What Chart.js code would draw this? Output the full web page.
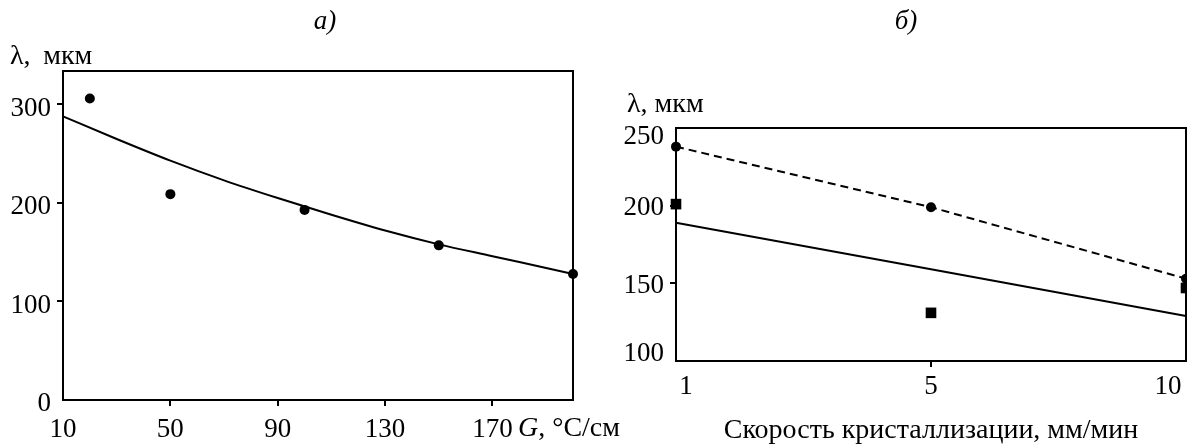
<!DOCTYPE html>
<html lang="ru">
<head>
<meta charset="utf-8">
<title>Междендритное расстояние λ</title>
<script src="https://cdn.jsdelivr.net/npm/chart.js@4.4.1/dist/chart.umd.min.js"></script>
<style>
  html, body { margin: 0; padding: 0; background: #fff; }
  #wrap { position: relative; width: 1187px; height: 445px; }
  #chartA { position: absolute; left: 0; top: 0; }
  #chartB { position: absolute; left: 620px; top: 0; }
</style>
</head>
<body>
<div id="wrap">
  <canvas id="chartA" width="620" height="445"></canvas>
  <canvas id="chartB" width="567" height="445"></canvas>
</div>
<script>
// а) λ от градиента температуры G
const gradG = [20, 50, 100, 150, 200];
const lambdaG = [306, 209, 193, 157, 128];
const fitG = [10, 30, 50, 70, 90, 110, 130, 150, 170, 190, 200];
const fitLambdaG = [288, 265, 243, 223, 205, 188, 172, 158, 146, 134, 128];
const ticksGx = [10, 50, 90, 130, 170];
const ticksGy = [0, 100, 200, 300];

// б) λ от скорости кристаллизации
const speedLabels = ['1', '5', '10'];
const lambdaCircle = [238, 199, 153];
const lambdaSquare = [201, 131, 147];
const lambdaSolid = [189, 159, 129];
const ticksVy = [100, 150, 200, 250];

const serif = "'Liberation Serif', 'Times New Roman', serif";
Chart.defaults.font.family = serif;
Chart.defaults.font.size = 27;
Chart.defaults.color = '#000';
Chart.defaults.animation = false;

const plain = `28px ${serif}`;
const italic = `italic 27px ${serif}`;

// рамка вокруг области построения, подписи осей и (по желанию) подписи шкал
const frame = {
  id: 'frame',
  beforeDatasetsDraw(chart) {
    const { ctx, chartArea: a } = chart;
    ctx.save();
    ctx.strokeStyle = '#000';
    ctx.lineWidth = 2;
    ctx.strokeRect(a.left, a.top, a.right - a.left, a.bottom - a.top);
    ctx.restore();
  },
  afterDraw(chart, args, opts) {
    const { ctx } = chart;
    ctx.save();
    ctx.fillStyle = '#000';
    ctx.textBaseline = 'middle';
    (opts.labels || []).forEach(l => {
      let x = l.x;
      ctx.textAlign = l.align || 'left';
      l.parts.forEach(p => {
        ctx.font = p.font;
        ctx.fillText(p.text, x, l.y);
        x += ctx.measureText(p.text).width;
      });
    });
    ctx.font = `27px ${serif}`;
    // крайние подписи шкал сдвинуты внутрь рамки
    if (opts.yShift) {
      const y = chart.scales.y;
      ctx.textAlign = 'right';
      y.ticks.forEach((t, i) => {
        ctx.fillText(String(t.value), y.right - 12, y.getPixelForValue(t.value) + opts.yShift[i]);
      });
    }
    if (opts.xShift) {
      const x = chart.scales.x;
      ctx.textAlign = 'center';
      x.ticks.forEach((t, i) => {
        ctx.fillText(x.getLabelForValue(t.value), x.getPixelForTick(i) + opts.xShift[i], x.top + 26);
      });
    }
    ctx.restore();
  }
};

// метки делений без крайних значений
const tickColor = hide => c => hide.includes(c.index) ? 'rgba(0,0,0,0)' : '#000';
const setTicks = list => s => { s.ticks = list.map(v => ({ value: v })); };
const fixHeight = h => s => { s.height = h; s.paddingLeft = 0; s.paddingRight = 0; };
const fixWidth = w => s => { s.width = w; s.paddingTop = 0; s.paddingBottom = 0; };

new Chart(document.getElementById('chartA'), {
  type: 'scatter',
  data: {
    datasets: [{
      data: fitG.map((x, i) => ({ x, y: fitLambdaG[i] })),
      showLine: true,
      borderColor: '#000',
      borderWidth: 2,
      pointRadius: 0,
      cubicInterpolationMode: 'monotone',
      clip: false
    }, {
      data: gradG.map((x, i) => ({ x, y: lambdaG[i] })),
      pointRadius: 5,
      backgroundColor: '#000',
      borderWidth: 0,
      clip: false
    }]
  },
  options: {
    responsive: false,
    events: [],
    layout: { autoPadding: false, padding: { top: 71, right: 47, left: 0, bottom: 0 } },
    plugins: {
      legend: { display: false },
      tooltip: { enabled: false },
      frame: {
        labels: [
          { x: 325, y: 22, align: 'center', parts: [{ text: 'а)', font: italic }] },
          { x: 10, y: 57, parts: [{ text: 'λ, \u2009мкм', font: plain }] },
          { x: 518, y: 429, parts: [{ text: 'G', font: `italic 28px ${serif}` }, { text: ', °C/см', font: plain }] }
        ]
      }
    },
    scales: {
      x: {
        type: 'linear', min: 10, max: 200,
        afterBuildTicks: setTicks(ticksGx),
        afterFit: fixHeight(45),
        border: { display: false },
        grid: { drawOnChartArea: false, tickLength: 6, lineWidth: 2, color: tickColor([0]) },
        ticks: { padding: 8, maxRotation: 0, autoSkip: false }
      },
      y: {
        min: 0, max: 334,
        afterBuildTicks: setTicks(ticksGy),
        afterFit: fixWidth(63),
        border: { display: false },
        grid: { drawOnChartArea: false, tickLength: 6, lineWidth: 2, color: tickColor([0]) },
        ticks: { padding: 6, labelOffset: 4 }
      }
    }
  },
  plugins: [frame]
});

new Chart(document.getElementById('chartB'), {
  type: 'line',
  data: {
    labels: speedLabels,
    datasets: [{
      data: lambdaCircle,
      borderColor: '#000',
      borderWidth: 2,
      borderDash: [8, 5],
      pointRadius: 5,
      pointStyle: 'circle',
      backgroundColor: '#000',
      pointBorderWidth: 0,
      tension: 0,
      clip: false
    }, {
      data: lambdaSquare,
      showLine: false,
      pointRadius: 7.5,
      pointStyle: 'rect',
      backgroundColor: '#000',
      pointBorderWidth: 0,
      clip: false
    }, {
      data: lambdaSolid,
      borderColor: '#000',
      borderWidth: 2,
      pointRadius: 0,
      tension: 0,
      clip: false
    }]
  },
  options: {
    responsive: false,
    events: [],
    layout: { autoPadding: false, padding: { top: 128, right: 1, left: 0, bottom: 0 } },
    plugins: {
      legend: { display: false },
      tooltip: { enabled: false },
      frame: {
        labels: [
          { x: 286, y: 22, align: 'center', parts: [{ text: 'б)', font: italic }] },
          { x: 7, y: 105, parts: [{ text: 'λ, мкм', font: plain }] },
          { x: 311, y: 431, align: 'center', parts: [{ text: 'Скорость кристаллизации, мм/мин', font: plain }] }
        ],
        yShift: [-7, 3, 2, 9],
        xShift: [10, 0, -18]
      }
    },
    scales: {
      x: {
        type: 'category',
        offset: false,
        afterFit: fixHeight(84),
        border: { display: false },
        grid: { drawOnChartArea: false, tickLength: 6, lineWidth: 2, color: tickColor([0, 2]) },
        ticks: { display: false }
      },
      y: {
        min: 100, max: 250,
        afterBuildTicks: setTicks(ticksVy),
        afterFit: fixWidth(56),
        border: { display: false },
        grid: { drawOnChartArea: false, tickLength: 6, lineWidth: 2, color: tickColor([0, 3]) },
        ticks: { display: false }
      }
    }
  },
  plugins: [frame]
});
</script>
</body>
</html>
